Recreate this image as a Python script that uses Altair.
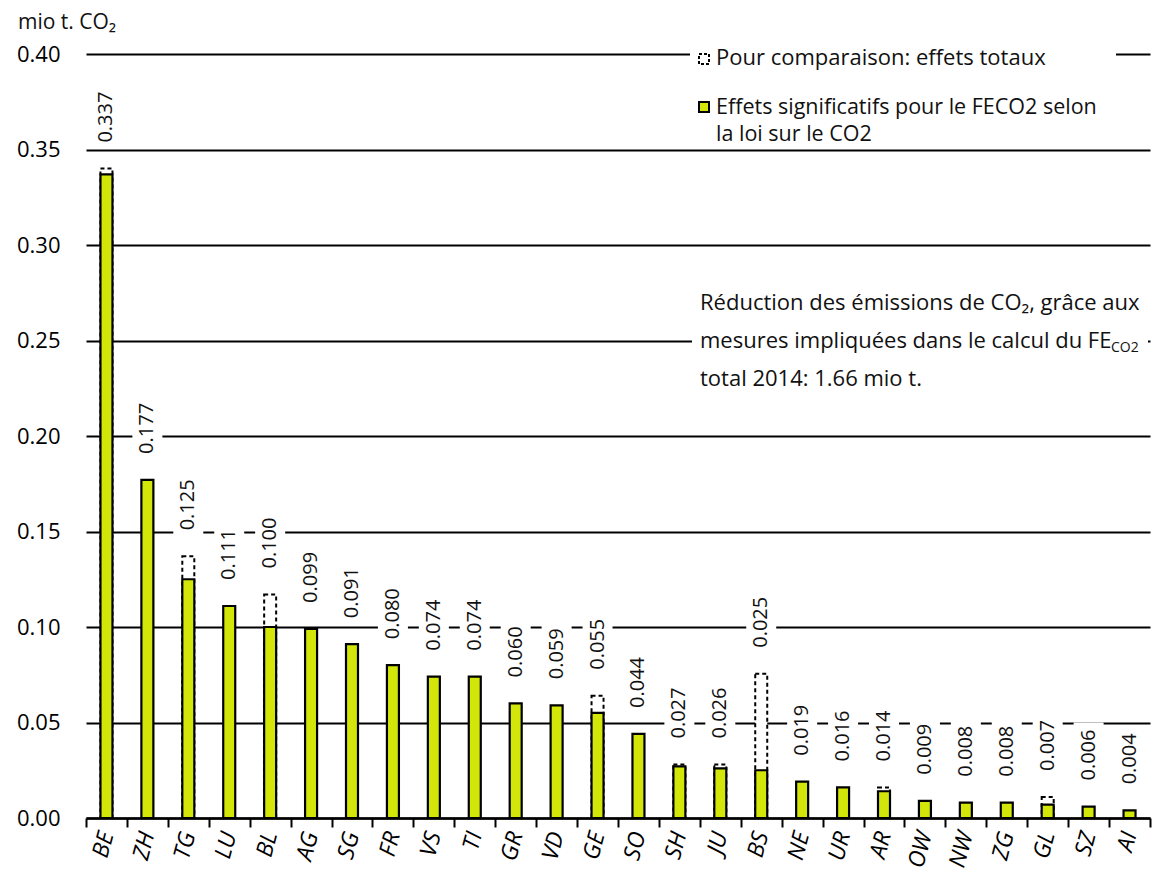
import altair as alt
import pandas as pd

cantons = ["BE", "ZH", "TG", "LU", "BL", "AG", "SG", "FR", "VS", "TI", "GR", "VD", "GE",
           "SO", "SH", "JU", "BS", "NE", "UR", "AR", "OW", "NW", "ZG", "GL", "SZ", "AI"]
effets = [0.337, 0.177, 0.125, 0.111, 0.100, 0.099, 0.091, 0.080, 0.074, 0.074, 0.060, 0.059, 0.055,
          0.044, 0.027, 0.026, 0.025, 0.019, 0.016, 0.014, 0.009, 0.008, 0.008, 0.007, 0.006, 0.004]
totaux = [0.340, 0.177, 0.137, 0.111, 0.117, 0.099, 0.091, 0.080, 0.074, 0.074, 0.060, 0.059, 0.064,
          0.044, 0.028, 0.028, 0.0755, 0.019, 0.016, 0.016, 0.009, 0.008, 0.008, 0.011, 0.006, 0.004]
y_ticks = [0.0, 0.05, 0.10, 0.15, 0.20, 0.25, 0.30, 0.35, 0.40]

FONT = "Open Sans"
GREEN = "#d2e60a"
W, H = 1064, 764
YMAX = 0.40
PX = H / YMAX  # pixels per unit

df = pd.DataFrame({"canton": cantons, "effet": effets, "total": totaux})
df["top"] = df[["effet", "total"]].max(axis=1)
df["lab_y"] = df["top"] + 26 / PX
df["box_lo"] = df["lab_y"] - 5 / PX
df["box_hi"] = df["lab_y"] + 58 / PX
df["label"] = df["effet"].map(lambda v: f"{v:.3f}")

yscale = alt.Scale(domain=[0, YMAX], nice=False, zero=True)
xscale = alt.Scale(paddingInner=0, paddingOuter=0)

XAXIS = alt.Axis(title=None, labelAngle=285, labelFontSize=23, labelFont=FONT,
                 labelFontStyle="italic", labelColor="black", tickBand="extent",
                 ticks=True, tickSize=9, tickColor="black", tickWidth=2,
                 domainColor="black", domainWidth=2.5, labelPadding=5, grid=False)
YAXIS = alt.Axis(values=y_ticks, format=".2f", title=None, grid=True,
                 gridColor="black", gridWidth=2.2, ticks=False, domain=False,
                 labelFontSize=22, labelFont=FONT, labelColor="black",
                 labelPadding=26)


def xenc():
    return alt.X("canton:N", sort=cantons, scale=xscale, axis=XAXIS)


def yenc(field):
    return alt.Y(field, scale=yscale, axis=YAXIS)


base = alt.Chart(df)

dashed = base.transform_filter("datum.total > datum.effet").mark_bar(
    width=12, fill="white", stroke="black", strokeWidth=2, strokeDash=[4, 3]
).encode(x=xenc(), y=yenc("total:Q"))

boxes = base.mark_bar(width=30, color="white").encode(
    x=xenc(), y=yenc("box_lo:Q"), y2="box_hi:Q")

labels = base.mark_text(angle=270, align="left", baseline="middle", fontSize=20,
                        font=FONT, color="#111").encode(
    x=xenc(), y=yenc("lab_y:Q"), text="label:N")

bars = base.mark_bar(width=12, fill=GREEN, stroke="black", strokeWidth=2.2).encode(
    x=xenc(), y=yenc("effet:Q"))

one = alt.Chart(pd.DataFrame({"k": [0]}))


def rect(x, x2, y, y2, **kw):
    return one.mark_rect(**kw).encode(x=alt.value(x), x2=alt.value(x2),
                                      y=alt.value(y), y2=alt.value(y2))


def txt(s, x, y, size=22, **kw):
    return one.mark_text(text=s, align="left", baseline="middle", fontSize=size,
                         font=FONT, color="#111", **kw).encode(x=alt.value(x), y=alt.value(y))


legend_layers = [
    rect(604, 1030, -11, 15, color="white"),
    rect(613, 623, 0, 10, fill="white", stroke="black", strokeWidth=2, strokeDash=[3, 2]),
    txt("Pour comparaison: effets totaux", 630, 4),
    rect(613, 623, 48, 58, fill=GREEN, stroke="black", strokeWidth=2),
    txt("Effets significatifs pour le FECO2 selon", 630, 54, size=21.5),
    txt("la loi sur le CO2", 630, 81, size=21.5),
    rect(606, 1062, 278, 296, color="white"),
    txt("Réduction des émissions de CO₂, grâce aux", 614, 249),
    txt("mesures impliquées dans le calcul du FE", 614, 287),
    txt("CO2", 1025, 294, size=14),
    txt("total 2014: 1.66 mio t.", 614, 325),
    txt("mio t. CO₂", -68, -31, size=21),
]

chart = alt.layer(dashed, boxes, labels, bars, *legend_layers).properties(
    width=W, height=H,
    padding={"left": 78, "top": 46, "right": 2, "bottom": 56},
    autosize="none",
).configure(background="white").configure_view(strokeWidth=0)

chart.save("out.html", embed_options={"renderer": "svg", "actions": False})
